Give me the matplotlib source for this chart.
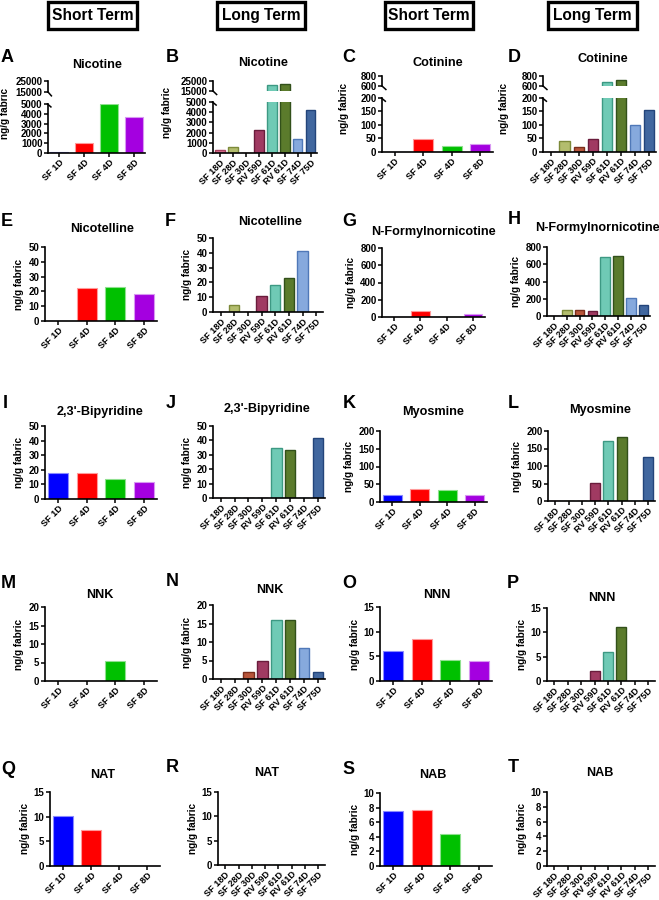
import matplotlib
matplotlib.use("Agg")
import matplotlib.pyplot as plt
from matplotlib.patches import Rectangle
import numpy as np

plt.rcParams['font.family'] = ['Liberation Sans', 'DejaVu Sans']
plt.rcParams['font.weight'] = 'bold'
plt.rcParams['axes.labelweight'] = 'bold'

# ---- data ----
short_labels = ["SF 1D", "SF 4D", "SF 4D", "SF 8D"]
long_labels = ["SF 18D", "SF 28D", "SF 30D", "RV 59D", "SF 61D", "RV 61D", "SF 74D", "SF 75D"]

short_colors = ["#0000ff", "#ff0000", "#00c000", "#a400e0"]
short_edges = ["#8a8aff", "#ff9a9a", "#8fe08f", "#d898f2"]
long_colors = ["#d9708f", "#b3bd6e", "#b8553a", "#a03a62", "#6fcab5", "#5b7b2c", "#86a9dd", "#41679f"]
long_edges = ["#a8405f", "#7d8a3a", "#7a2e1c", "#6a1c3c", "#3d9983", "#32501a", "#4f78b8", "#23447a"]

nicotine_short = [150, 1000, 4950, 3700]
nicotine_long = [300, 550, 0, 2300, 21000, 22000, 1400, 4200]
cotinine_short = [0, 48, 22, 30]
cotinine_long = [0, 42, 20, 48, 680, 720, 100, 155]
nicotelline_short = [0, 22, 23, 18]
nicotelline_long = [0, 5, 0, 11, 18, 23, 41, 0]
nfn_short = [0, 65, 0, 40]
nfn_long = [0, 65, 70, 55, 680, 700, 210, 125]
bipyridine_short = [18, 17.5, 13.5, 11.5]
bipyridine_long = [0, 0, 0, 0, 35, 33, 0, 42]
myosmine_short = [21, 37, 33, 19]
myosmine_long = [0, 0, 0, 52, 172, 183, 0, 125]
nnk_short = [0, 0, 5.3, 0]
nnk_long = [0, 0, 2, 5, 16, 16, 8.3, 2]
nnn_short = [6.1, 8.5, 4.2, 4.0]
nnn_long = [0, 0, 0, 2, 6, 11, 0, 0]
nat_short = [10.2, 7.2, 0, 0]
nat_long = [0, 0, 0, 0, 0, 0, 0, 0]
nab_short = [7.6, 7.7, 4.4, 0]
nab_long = [0, 0, 0, 0, 0, 0, 0, 0]

W, H = 659, 900
fig = plt.figure(figsize=(W / 100, H / 100), dpi=100)

TICK_FS = 7
XLAB_FS = 6.6
YLAB_FS = 7.2


def frac(l, t, r, b):
    return [l / W, 1 - b / H, (r - l) / W, (b - t) / H]


def style(ax, labels):
    for s in ["top", "right"]:
        ax.spines[s].set_visible(False)
    for s in ["left", "bottom"]:
        ax.spines[s].set_linewidth(1.2)
    ax.tick_params(direction="out", length=3, width=1.1, labelsize=TICK_FS, pad=1)
    ax.tick_params(axis="x", pad=0.5)
    ax.set_xticks(np.arange(len(labels)))
    ax.set_xticklabels(labels, rotation=45, ha="right", rotation_mode="anchor", fontsize=XLAB_FS)


def draw_bars(ax, vals, long):
    x = np.arange(len(vals))
    if long:
        ax.bar(x, vals, width=0.75, color=long_colors, edgecolor=long_edges, linewidth=1)
        ax.set_xlim(-0.55, 7.5)
    else:
        ax.bar(x, vals, width=0.7, color=short_colors, edgecolor=short_edges, linewidth=0.8)
        ax.set_xlim(-0.45, 3.45)


def label(letter, lxy, title, txy):
    fig.text(lxy[0] / W, 1 - lxy[1] / H, letter, fontsize=13, fontweight="bold",
             ha="center", va="center")
    fig.text(txy[0] / W, 1 - txy[1] / H, title, fontsize=9.1, fontweight="bold",
             ha="center", va="center")


# ---- broken-axis panels (row 1) ----
broken = [
    ("A", "Nicotine", nicotine_short, False, (48, 145, 81, 92, 104, 153),
     (0, 5000), [0, 1000, 2000, 3000, 4000, 5000], (15000, 25000), (7, 57), (97, 65)),
    ("B", "Nicotine", nicotine_long, True, (213, 317, 81, 91, 102, 153),
     (0, 5000), [0, 1000, 2000, 3000, 4000, 5000], (15000, 25000), (172, 57), (263, 63)),
    ("C", "Cotinine", cotinine_short, False, (382, 493, 76, 86, 98, 152),
     (0, 200), [0, 50, 100, 150, 200], (600, 800), (349, 57), (438, 63)),
    ("D", "Cotinine", cotinine_long, True, (543, 656, 76, 86, 98, 152),
     (0, 200), [0, 50, 100, 150, 200], (600, 800), (514, 57), (603, 59)),
]

for letter, title, vals, long, (l, r, ht, hb, lt, lb), lo_lim, lo_ticks, hi_lim, lxy, txy in broken:
    labels = long_labels if long else short_labels
    ax_lo = fig.add_axes(frac(l, lt, r, lb))
    ax_hi = fig.add_axes(frac(l, ht, r, hb))
    for ax in (ax_lo, ax_hi):
        draw_bars(ax, vals, long)
        style(ax, labels)
    ax_lo.set_ylim(*lo_lim)
    ax_lo.set_yticks(lo_ticks)
    ax_hi.set_ylim(*hi_lim)
    ax_hi.set_yticks(list(hi_lim))
    ax_hi.spines["bottom"].set_visible(False)
    ax_hi.tick_params(axis="x", bottom=False, labelbottom=False)
    # break marks
    ax_hi.plot([0, 0.035], [0, -0.35], color="black", lw=1.1, transform=ax_hi.transAxes, clip_on=False)
    ax_lo.plot([-0.005, 0.03], [1.0, 0.94], color="black", lw=1.1, transform=ax_lo.transAxes, clip_on=False)
    ax_lo.set_ylabel("ng/g fabric", fontsize=YLAB_FS)
    if letter in ("C", "D"):
        ax_lo.yaxis.set_label_coords(-0.3, 0.8)
    else:
        ax_lo.yaxis.set_label_coords(-0.39, 0.8)
    label(letter, lxy, title, txy)

# ---- normal panels ----
panels = [
    ("E", "Nicotelline", nicotelline_short, False, (45, 247, 157, 321), 50, 10, (7, 222), (102, 229)),
    ("F", "Nicotelline", nicotelline_long, True, (213, 238, 323, 312), 50, 10, (170, 222), (270, 222)),
    ("G", "N-Formylnornicotine", nfn_short, False, (382, 248, 485, 317), 800, 200, (349, 221), (433, 232)),
    ("H", "N-Formylnornicotine", nfn_long, True, (547, 247, 650, 316), 800, 200, (514, 220), (597, 228)),
    ("I", "2,3'-Bipyridine", bipyridine_short, False, (45, 426, 157, 499), 50, 10, (5, 403), (100, 412)),
    ("J", "2,3'-Bipyridine", bipyridine_long, True, (213, 426, 325, 498), 50, 10, (171, 403), (267, 409)),
    ("K", "Myosmine", myosmine_short, False, (380, 431, 487, 502), 200, 50, (349, 403), (433, 412)),
    ("L", "Myosmine", myosmine_long, True, (548, 431, 655, 501), 200, 50, (513, 403), (600, 410)),
    ("M", "NNK", nnk_short, False, (45, 607, 157, 681), 20, 5, (8, 583), (100, 595)),
    ("N", "NNK", nnk_long, True, (213, 605, 325, 679), 20, 5, (172, 582), (270, 590)),
    ("O", "NNN", nnn_short, False, (380, 607, 492, 681), 15, 5, (349, 583), (437, 595)),
    ("P", "NNN", nnn_long, True, (547, 608, 655, 681), 15, 5, (513, 583), (602, 598)),
    ("Q", "NAT", nat_short, False, (50, 792, 160, 866), 15, 5, (8, 770), (103, 775)),
    ("R", "NAT", nat_long, True, (218, 792, 325, 865), 15, 5, (172, 768), (267, 773)),
    ("S", "NAB", nab_short, False, (380, 793, 492, 866), 10, 2, (349, 769), (433, 775)),
    ("T", "NAB", nab_long, True, (547, 792, 655, 866), 10, 2, (513, 768), (600, 773)),
]

for letter, title, vals, long, (l, t, r, b), ymax, step, lxy, txy in panels:
    labels = long_labels if long else short_labels
    ax = fig.add_axes(frac(l, t, r, b))
    draw_bars(ax, vals, long)
    style(ax, labels)
    ax.set_ylim(0, ymax)
    ax.set_yticks(np.arange(0, ymax + step / 2, step))
    ax.set_ylabel("ng/g fabric", fontsize=YLAB_FS, labelpad=3)
    label(letter, lxy, title, txy)

# ---- column headers ----
headers = ["Short Term", "Long Term", "Short Term", "Long Term"]
header_boxes = [(48, 137), (217, 305), (385, 473), (548, 637)]
for text, (l, r) in zip(headers, header_boxes):
    fig.patches.append(Rectangle((l / W, 1 - 29 / H), (r - l) / W, 27 / H,
                                 transform=fig.transFigure, fill=False,
                                 edgecolor="black", linewidth=2.4))
    fig.text((l + r) / 2 / W, 1 - 15.5 / H, text, fontsize=11.2, fontweight="bold",
             ha="center", va="center")

fig.savefig("out.png", dpi=100)
